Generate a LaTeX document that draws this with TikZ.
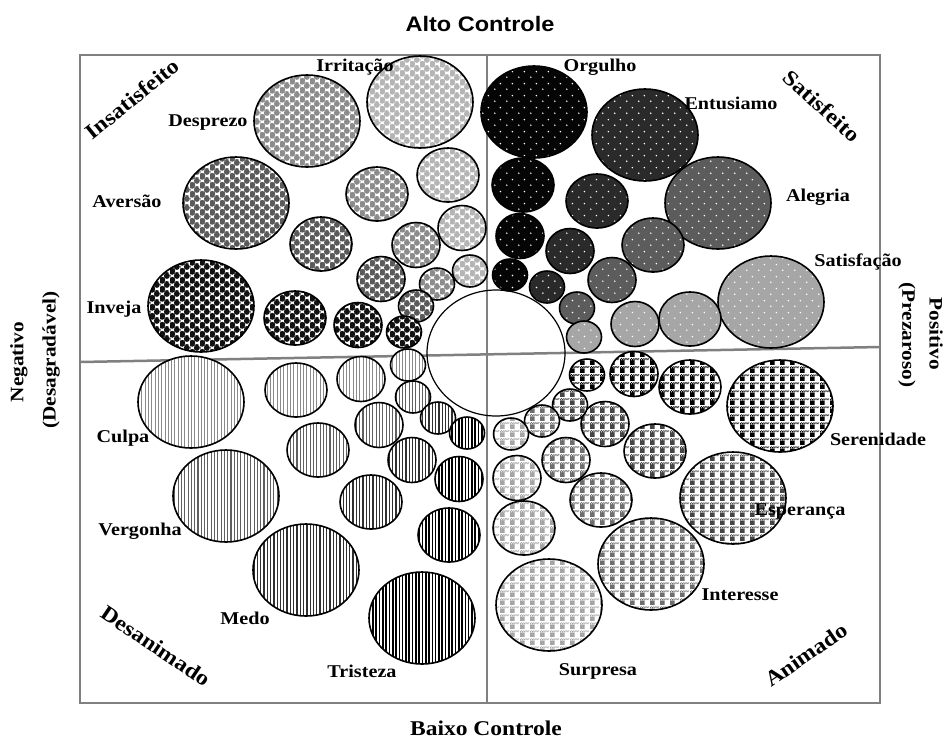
\documentclass[tikz,border=0pt]{standalone}
\usepackage{fontspec}
\setmainfont{Liberation Serif}[FakeStretch=1.12]
\newfontfamily\arialb{Liberation Sans}[FakeStretch=1.12]
\usetikzlibrary{shapes.geometric,patterns,patterns.meta}

\pgfdeclarepatternformonly{bubbles}{\pgfqpoint{0pt}{0pt}}{\pgfqpoint{10pt}{8.6pt}}{\pgfqpoint{10pt}{8.6pt}}{%
  \pgfpathcircle{\pgfqpoint{2.5pt}{2.15pt}}{3.2pt}
  \pgfpathcircle{\pgfqpoint{2.5pt}{10.75pt}}{3.2pt}
  \pgfpathcircle{\pgfqpoint{7.5pt}{6.45pt}}{3.2pt}
  \pgfpathcircle{\pgfqpoint{-2.5pt}{6.45pt}}{3.2pt}
  \pgfpathcircle{\pgfqpoint{7.5pt}{-2.15pt}}{3.2pt}
  \pgfpathcircle{\pgfqpoint{-2.5pt}{-2.15pt}}{3.2pt}
  \pgfusepath{fill}}

\pgfdeclarepatternformonly{wdots}{\pgfqpoint{0pt}{0pt}}{\pgfqpoint{12pt}{12pt}}{\pgfqpoint{12pt}{12pt}}{%
  \pgfpathcircle{\pgfqpoint{3pt}{3pt}}{0.9pt}
  \pgfpathcircle{\pgfqpoint{9pt}{9pt}}{0.9pt}
  \pgfusepath{fill}}

\pgfdeclarepatternformonly{gingham}{\pgfqpoint{0pt}{0pt}}{\pgfqpoint{10pt}{8pt}}{\pgfqpoint{10pt}{8pt}}{%
  \pgfpathrectangle{\pgfqpoint{0pt}{0pt}}{\pgfqpoint{5pt}{5pt}}
  \pgfpathrectangle{\pgfqpoint{0pt}{5.5pt}}{\pgfqpoint{1pt}{1pt}}
  \pgfpathrectangle{\pgfqpoint{2pt}{5.5pt}}{\pgfqpoint{1pt}{1pt}}
  \pgfpathrectangle{\pgfqpoint{4pt}{5.5pt}}{\pgfqpoint{1pt}{1pt}}
  \pgfpathrectangle{\pgfqpoint{6pt}{5.5pt}}{\pgfqpoint{1pt}{1pt}}
  \pgfpathrectangle{\pgfqpoint{8pt}{5.5pt}}{\pgfqpoint{1pt}{1pt}}
  \pgfpathrectangle{\pgfqpoint{1pt}{6.5pt}}{\pgfqpoint{1pt}{1pt}}
  \pgfpathrectangle{\pgfqpoint{3pt}{6.5pt}}{\pgfqpoint{1pt}{1pt}}
  \pgfpathrectangle{\pgfqpoint{5pt}{6.5pt}}{\pgfqpoint{1pt}{1pt}}
  \pgfpathrectangle{\pgfqpoint{7pt}{6.5pt}}{\pgfqpoint{1pt}{1pt}}
  \pgfpathrectangle{\pgfqpoint{9pt}{6.5pt}}{\pgfqpoint{1pt}{1pt}}
  \pgfusepath{fill}}

\tikzset{
  circ/.style={ellipse, draw=black, line width=1.6pt, inner sep=0pt, outer sep=0pt},
  szbig/.style={minimum width=106pt, minimum height=92pt},
  szmid/.style={minimum width=62pt, minimum height=54pt},
  szsml/.style={minimum width=48pt, minimum height=45pt},
  sztny/.style={minimum width=35pt, minimum height=32pt},
  bub/.style={circ, preaction={fill=white}, pattern=bubbles, pattern color=#1},
  wdot/.style={circ, preaction={fill=#1}, pattern=wdots, pattern color=white},
  ging/.style={circ, preaction={fill=white}, pattern=gingham, pattern color=#1},
  vlin/.style 2 args={circ, preaction={fill=white}, pattern={Lines[angle=90,distance=3.3pt,line width=#2]}, pattern color=#1},
  lab/.style={font=\fontsize{18}{21}\selectfont\bfseries, inner sep=0pt},
  corner/.style={font=\fontsize{21.5}{24}\selectfont\bfseries, inner sep=0pt},
  axtext/.style={font=\fontsize{19}{22}\selectfont\bfseries, inner sep=0pt},
  axline/.style={draw=black!50, line width=2.5pt},
}
\definecolor{irrc}{HTML}{B5B5B5}
\definecolor{desc}{HTML}{8C8C8C}
\definecolor{avec}{HTML}{5A5A5A}
\definecolor{invc}{HTML}{111111}
\definecolor{orgc}{HTML}{050505}
\definecolor{entc}{HTML}{2A2A2A}
\definecolor{alec}{HTML}{5C5C5C}
\definecolor{satc}{HTML}{A6A6A6}
\definecolor{serc}{HTML}{000000}
\definecolor{espc}{HTML}{454545}
\definecolor{intc}{HTML}{6E6E6E}
\definecolor{surc}{HTML}{A5A5A5}
\definecolor{culc}{HTML}{8A8A8A}
\definecolor{verc}{HTML}{606060}
\definecolor{medc}{HTML}{303030}
\definecolor{tric}{HTML}{000000}

\begin{document}
\begin{tikzpicture}[x=1pt,y=-1pt]
\useasboundingbox (0,0) rectangle (947,740);
\fill[white] (0,0) rectangle (947,740);

% frame and axes
\draw[axline] (80,55) rectangle (880,703);
\draw[axline] (487,55) -- (487,703);
\draw[axline] (80,362) -- (880,347);

% centre circle
\node[ellipse, draw=black, line width=1.2pt, minimum width=138pt, minimum height=126pt, inner sep=0pt] (centre) at (496,353) {};

% Top-left: bubbles
\node[bub=irrc, szbig] (irr1) at (420,102) {};
\node[bub=irrc, szmid] (irr2) at (448,175) {};
\node[bub=irrc, szsml] (irr3) at (462,228) {};
\node[bub=irrc, sztny] (irr4) at (470,271) {};
\node[bub=desc, szbig] (des1) at (307,121) {};
\node[bub=desc, szmid] (des2) at (377,194) {};
\node[bub=desc, szsml] (des3) at (416,245) {};
\node[bub=desc, sztny] (des4) at (437,284) {};
\node[bub=avec, szbig] (ave1) at (236,203) {};
\node[bub=avec, szmid] (ave2) at (321,244) {};
\node[bub=avec, szsml] (ave3) at (381,279) {};
\node[bub=avec, sztny] (ave4) at (416,306) {};
\node[bub=invc, szbig] (inv1) at (201,306) {};
\node[bub=invc, szmid] (inv2) at (295,318) {};
\node[bub=invc, szsml] (inv3) at (358,325) {};
\node[bub=invc, sztny] (inv4) at (404,332) {};

% Top-right: dots
\node[wdot=orgc, szbig] (org1) at (534,112) {};
\node[wdot=orgc, szmid] (org2) at (523,185) {};
\node[wdot=orgc, szsml] (org3) at (520,236) {};
\node[wdot=orgc, sztny] (org4) at (510,275) {};
\node[wdot=entc, szbig] (ent1) at (645,135) {};
\node[wdot=entc, szmid] (ent2) at (597,201) {};
\node[wdot=entc, szsml] (ent3) at (570,251) {};
\node[wdot=entc, sztny] (ent4) at (547,287) {};
\node[wdot=alec, szbig] (ale1) at (718,203) {};
\node[wdot=alec, szmid] (ale2) at (653,245) {};
\node[wdot=alec, szsml] (ale3) at (612,280) {};
\node[wdot=alec, sztny] (ale4) at (577,308) {};
\node[wdot=satc, szbig] (sat1) at (771,302) {};
\node[wdot=satc, szmid] (sat2) at (690,319) {};
\node[wdot=satc, szsml] (sat3) at (635,324) {};
\node[wdot=satc, sztny] (sat4) at (584,337) {};

% Bottom-right: gingham
\node[ging=serc, szbig] (ser1) at (780,406) {};
\node[ging=serc, szmid] (ser2) at (690,387) {};
\node[ging=serc, szsml] (ser3) at (634,374) {};
\node[ging=serc, sztny] (ser4) at (587,375) {};
\node[ging=espc, szbig] (esp1) at (733,498) {};
\node[ging=espc, szmid] (esp2) at (655,451) {};
\node[ging=espc, szsml] (esp3) at (605,424) {};
\node[ging=espc, sztny] (esp4) at (570,405) {};
\node[ging=intc, szbig] (int1) at (651,564) {};
\node[ging=intc, szmid] (int2) at (601,500) {};
\node[ging=intc, szsml] (int3) at (566,460) {};
\node[ging=intc, sztny] (int4) at (542,421) {};
\node[ging=surc, szbig] (sur1) at (549,605) {};
\node[ging=surc, szmid] (sur2) at (524,528) {};
\node[ging=surc, szsml] (sur3) at (517,478) {};
\node[ging=surc, sztny] (sur4) at (511,434) {};

% Bottom-left: vertical lines
\node[vlin={culc}{0.9pt}, szbig] (cul1) at (191,402) {};
\node[vlin={culc}{0.9pt}, szmid] (cul2) at (296,390) {};
\node[vlin={culc}{0.9pt}, szsml] (cul3) at (361,379) {};
\node[vlin={culc}{0.9pt}, sztny] (cul4) at (408,365) {};
\node[vlin={verc}{1.1pt}, szbig] (ver1) at (226,496) {};
\node[vlin={verc}{1.1pt}, szmid] (ver2) at (318,450) {};
\node[vlin={verc}{1.1pt}, szsml] (ver3) at (379,425) {};
\node[vlin={verc}{1.1pt}, sztny] (ver4) at (413,397) {};
\node[vlin={medc}{1.3pt}, szbig] (med1) at (306,570) {};
\node[vlin={medc}{1.3pt}, szmid] (med2) at (371,502) {};
\node[vlin={medc}{1.3pt}, szsml] (med3) at (412,460) {};
\node[vlin={medc}{1.3pt}, sztny] (med4) at (438,418) {};
\node[vlin={tric}{1.6pt}, szbig] (tri1) at (422,618) {};
\node[vlin={tric}{1.6pt}, szmid] (tri2) at (449,535) {};
\node[vlin={tric}{1.6pt}, szsml] (tri3) at (459,479) {};
\node[vlin={tric}{1.6pt}, sztny] (tri4) at (467,433) {};

% emotion labels
\node[lab] (lirr) at (355,67) {Irritação};
\node[lab] (ldes) at (208,123) {Desprezo};
\node[lab] (lave) at (127,201) {Aversão};
\node[lab] (linv) at (114,309) {Inveja};
\node[lab] (lorg) at (600,67) {Orgulho};
\node[lab] (lent) at (731,103) {Entusiamo};
\node[lab] (lale) at (818,197) {Alegria};
\node[lab] (lsat) at (858,262) {Satisfação};
\node[lab] (lser) at (878,439) {Serenidade};
\node[lab] (lesp) at (800,512) {Esperança};
\node[lab] (lint) at (740,595) {Interesse};
\node[lab] (lsur) at (598,671) {Surpresa};
\node[lab] (lcul) at (123,438) {Culpa};
\node[lab] (lver) at (140,531) {Vergonha};
\node[lab] (lmed) at (245,618) {Medo};
\node[lab] (ltri) at (362,671) {Tristeza};

% corner labels
\node[corner, rotate=39] (cins) at (132,99) {Insatisfeito};
\node[corner, rotate=-42.5] (csat) at (822,106) {Satisfeito};
\node[corner, rotate=-34] (cdes) at (156,646) {Desanimado};
\node[corner, rotate=34.5] (cani) at (806,655) {Animado};

% axis labels
\node[font=\arialb\fontsize{21}{24}\selectfont\bfseries, inner sep=0pt] (alto) at (480,24) {Alto Controle};
\node[font=\fontsize{21}{24}\selectfont\bfseries, inner sep=0pt] (baixo) at (486,728) {Baixo Controle};
\node[axtext, rotate=90] (neg) at (19,362) {Negativo};
\node[axtext, rotate=90] (desag) at (51,360) {(Desagradável)};
\node[axtext, rotate=-90] (pos) at (936,334) {Positivo};
\node[axtext, rotate=-90] (prez) at (907,335) {(Prezaroso)};
\end{tikzpicture}
\end{document}
